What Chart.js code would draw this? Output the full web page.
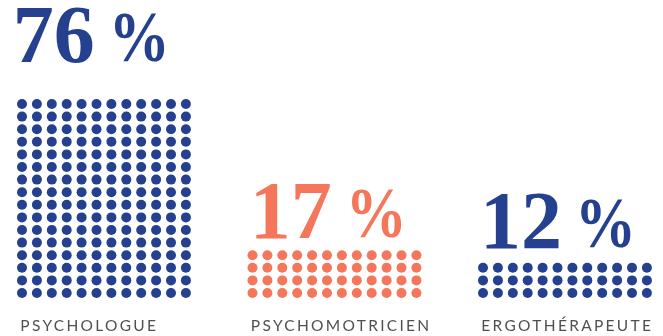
<!DOCTYPE html>
<html lang="fr">
<head>
<meta charset="utf-8">
<title>Professions</title>
<script src="https://cdn.jsdelivr.net/npm/chart.js@4/dist/chart.umd.min.js"></script>
<style>
  html, body { margin: 0; padding: 0; background: #fff; }
  #wrap { width: 663px; height: 336px; }
</style>
</head>
<body>
<div id="wrap"><canvas id="myChart" width="663" height="336"></canvas></div>
<script>
// categories and their values
const categories = ["PSYCHOLOGUE", "PSYCHOMOTRICIEN", "ERGOTHÉRAPEUTE"];
const percentages = [76, 17, 12];
const dotRows = [16, 4, 3];
const dotCols = [12, 12, 12];

// styling
const groupColors = ["#24408e", "#f4775c", "#24408e"];
const labelColor = "#505050";
const GROUP_STRIDE = 15.47;   // distance between groups, in dot columns
const DOT_RADIUS = 5;
const titleGap = [42.3, 17.5, 19.5]; // baseline of the big number above top dot row
const numberNudge = [-0.6, 8, 7.7];  // ink start of the number from the grid's left edge

document.addEventListener("DOMContentLoaded", () => {
    const ctx = document.getElementById("myChart").getContext("2d");

    function buildDots(g) {
        const pts = [];
        for (let r = 0; r < dotRows[g]; r++) {
            for (let c = 0; c < dotCols[g]; c++) {
                pts.push({ x: g * GROUP_STRIDE + c, y: r });
            }
        }
        return pts;
    }

    const datasets = categories.map((name, g) => ({
        label: name,
        data: buildDots(g),
        backgroundColor: groupColors[g],
        borderWidth: 0,
        pointRadius: DOT_RADIUS,
        pointHoverRadius: DOT_RADIUS
    }));

    // big percentages above each grid, captions below
    const textPlugin = {
        id: "dotText",
        afterDatasetsDraw(chart) {
            const c = chart.ctx;
            const xs = chart.scales.x, ys = chart.scales.y;
            c.save();
            c.textBaseline = "alphabetic";
            c.textAlign = "left";
            categories.forEach((name, g) => {
                const left = xs.getPixelForValue(g * GROUP_STRIDE) - 4.7;
                const topRow = ys.getPixelForValue(dotRows[g] - 1);
                const bottomRow = ys.getPixelForValue(0);
                const base = topRow - titleGap[g];

                // number
                c.fillStyle = groupColors[g];
                c.font = "bold 82px 'Liberation Serif'";
                const num = String(percentages[g]);
                const m = c.measureText(num);
                const inkLeft = left + numberNudge[g];
                c.fillText(num, inkLeft + m.actualBoundingBoxLeft, base);
                const numRight = inkLeft + m.actualBoundingBoxLeft + m.actualBoundingBoxRight;

                // narrow percent sign
                c.font = "bold 72px 'Liberation Serif'";
                const pm = c.measureText("%");
                const inkW = pm.actualBoundingBoxLeft + pm.actualBoundingBoxRight;
                const inkH = pm.actualBoundingBoxAscent + pm.actualBoundingBoxDescent;
                const sx = 50 / inkW, sy = 49 / inkH;
                c.save();
                c.translate(numRight + 22, base);
                c.scale(sx, sy);
                c.fillText("%", pm.actualBoundingBoxLeft, -pm.actualBoundingBoxDescent);
                c.restore();

                // caption
                c.fillStyle = labelColor;
                c.font = "15.5px Lato";
                c.letterSpacing = "2.3px";
                c.fillText(name, left + 3, bottomRow + 37.5);
                c.letterSpacing = "0px";
            });
            c.restore();
        }
    };

    new Chart(ctx, {
        type: "scatter",
        data: { datasets },
        options: {
            responsive: false,
            animation: false,
            events: [],
            layout: { padding: 0, autoPadding: false },
            plugins: {
                legend: { display: false },
                tooltip: { enabled: false }
            },
            scales: {
                x: { type: "linear", display: false, min: -22 / 14.9, max: (663 - 22) / 14.9 },
                y: { type: "linear", display: false, min: -(336 - 293) / 12.6, max: 293 / 12.6 }
            }
        },
        plugins: [textPlugin]
    });
});
</script>
</body>
</html>
